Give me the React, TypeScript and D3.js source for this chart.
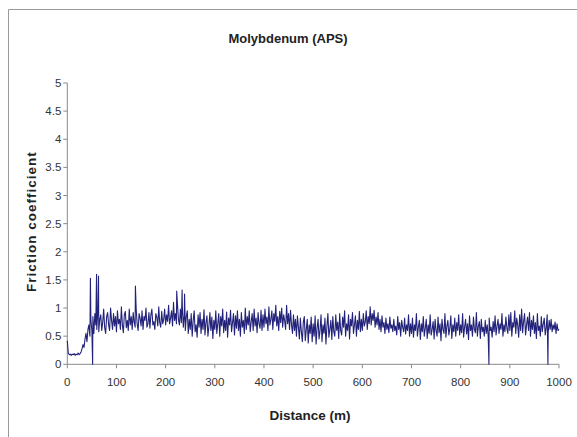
import React from "react";
import * as d3 from "d3";

const title = "Molybdenum (APS)";
const xLabel = "Distance (m)";
const yLabel = "Friction coefficient";
const xTicks = [0, 100, 200, 300, 400, 500, 600, 700, 800, 900, 1000];
const yTicks = [0, 0.5, 1, 1.5, 2, 2.5, 3, 3.5, 4, 4.5, 5];
const yTickLabels = ["0", "0.5", "1", "1.5", "2", "2.5", "3", "3.5", "4", "4.5", "5"];

// sampled every 2 m, from 0 to 1000 m
const sampleStep = 2;
const friction = [
  0.42, 0.2, 0.17, 0.18, 0.16, 0.18, 0.17, 0.19, 0.16, 0.18, 0.17, 0.2, 0.17, 0.19, 0.22, 0.28, 0.35, 0.3, 0.45, 0.55, 0.4, 0.62, 0.7, 0.5, 0.78,
  0.6, 0.85, 0.55, 0.9, 0.7, 0.62, 0.95, 0.58, 0.8, 0.88, 0.6, 0.75, 0.98, 0.65, 0.55, 0.85, 0.92, 0.7, 0.6, 1.0, 0.78, 0.62, 0.9, 0.68, 0.85,
  0.58, 0.95, 0.72, 0.8, 0.62, 1.02, 0.7, 0.56, 0.88, 0.94, 0.65, 0.78, 0.6, 0.98, 0.7, 0.85, 0.62, 0.92, 0.75, 0.66, 1.0, 0.72, 0.6, 0.9, 0.82,
  0.68, 0.95, 0.62, 0.85, 0.78, 1.0, 0.66, 0.72, 0.92, 0.64, 0.88, 0.98, 0.7, 0.76, 0.62, 0.9, 0.84, 0.68, 1.02, 0.74, 0.66, 0.94, 0.72, 0.8, 0.98,
  0.7, 0.88, 0.76, 1.05, 0.72, 0.82, 0.95, 0.68, 1.1, 0.78, 0.9, 0.72, 1.08, 0.8, 0.7, 0.98, 0.74, 1.02, 0.66, 0.9, 0.6, 0.85, 0.95, 0.55, 0.8,
  0.62, 0.9, 0.5, 0.78, 0.95, 0.58, 0.7, 0.48, 0.88, 0.66, 0.92, 0.55, 0.8, 0.62, 0.97, 0.52, 0.74, 0.86, 0.5, 0.68, 0.92, 0.6, 0.84, 0.46, 0.78,
  0.62, 0.95, 0.55, 0.72, 0.9, 0.5, 0.85, 0.68, 0.98, 0.56, 0.78, 0.6, 0.93, 0.48, 0.82, 0.7, 0.96, 0.58, 0.74, 0.9, 0.52, 0.86, 0.64, 0.95, 0.6,
  0.8, 0.5, 0.92, 0.66, 0.78, 0.55, 1.0, 0.62, 0.85, 0.7, 0.95, 0.58, 0.76, 0.9, 0.6, 0.98, 0.68, 0.82, 0.56, 0.92, 0.72, 0.64, 0.96, 0.6, 0.88,
  0.66, 0.98, 0.72, 0.84, 0.6, 1.02, 0.7, 0.8, 0.95, 0.62, 0.9, 0.76, 1.05, 0.68, 0.85, 0.6, 0.94, 0.74, 1.0, 0.66, 0.88, 0.78, 0.62, 1.05, 0.72,
  0.9, 0.62, 0.96, 0.7, 0.55, 0.88, 0.6, 0.8, 0.5, 0.86, 0.66, 0.45, 0.82, 0.58, 0.4, 0.75, 0.85, 0.42, 0.62, 0.8, 0.38, 0.7, 0.55, 0.84, 0.4,
  0.72, 0.5, 0.86, 0.36, 0.65, 0.8, 0.45, 0.6, 0.88, 0.4, 0.7, 0.55, 0.82, 0.36, 0.68, 0.9, 0.48, 0.62, 0.78, 0.44, 0.85, 0.58, 0.5, 0.88, 0.6,
  0.75, 0.46, 0.9, 0.6, 0.52, 0.84, 0.66, 0.95, 0.5, 0.72, 0.6, 0.88, 0.45, 0.8, 0.68, 0.92, 0.55, 0.7, 0.86, 0.5, 0.78, 0.62, 0.94, 0.58, 0.8,
  0.6, 0.9, 0.68, 0.75, 0.95, 0.62, 0.85, 0.72, 1.02, 0.7, 0.9, 0.78, 0.96, 0.66, 0.84, 0.7, 0.92, 0.62, 0.8, 0.58, 0.86, 0.66, 0.74, 0.55, 0.82,
  0.62, 0.72, 0.56, 0.84, 0.64, 0.7, 0.58, 0.8, 0.6, 0.68, 0.52, 0.85, 0.62, 0.74, 0.5, 0.78, 0.66, 0.58, 0.82, 0.54, 0.7, 0.6, 0.88, 0.5, 0.72,
  0.55, 0.82, 0.48, 0.7, 0.6, 0.9, 0.5, 0.66, 0.78, 0.44, 0.72, 0.58, 0.85, 0.5, 0.64, 0.8, 0.46, 0.7, 0.55, 0.88, 0.52, 0.62, 0.76, 0.45, 0.8,
  0.6, 0.5, 0.84, 0.56, 0.72, 0.42, 0.8, 0.62, 0.55, 0.9, 0.48, 0.68, 0.78, 0.52, 0.64, 0.86, 0.46, 0.7, 0.58, 0.82, 0.5, 0.74, 0.6, 0.88, 0.52,
  0.7, 0.56, 0.9, 0.48, 0.66, 0.8, 0.54, 0.72, 0.44, 0.86, 0.6, 0.7, 0.5, 0.84, 0.62, 0.56, 0.92, 0.5, 0.68, 0.76, 0.46, 0.8, 0.58, 0.66, 0.5,
  0.78, 0.55, 0.7, 0.5, 0.82, 0.6, 0.66, 0.48, 0.76, 0.58, 0.86, 0.52, 0.68, 0.8, 0.55, 0.72, 0.62, 0.9, 0.5, 0.7, 0.58, 0.84, 0.64, 0.55, 0.88,
  0.6, 0.92, 0.5, 0.74, 0.66, 0.95, 0.55, 0.82, 0.7, 0.48, 0.88, 0.6, 0.98, 0.56, 0.76, 0.9, 0.52, 0.7, 0.84, 0.6, 0.92, 0.5, 0.78, 0.62, 0.86,
  0.55, 0.74, 0.46, 0.9, 0.6, 0.68, 0.5, 0.85, 0.58, 0.72, 0.82, 0.52, 0.66, 0.88, 0.56, 0.78, 0.62, 0.8, 0.58, 0.7, 0.62, 0.75, 0.55, 0.72, 0.6,
  0.62,
];

// isolated spikes
const spikeDistance = [47, 51.5, 59.5, 63.5, 138.5, 222.5, 233.5, 238.5, 857.5, 977.5];
const spikeValue = [1.53, 0, 1.6, 1.57, 1.39, 1.3, 1.32, 1.25, 0, 0];

const W = 577;
const H = 437;
const left = 67.3;
const right = 559;
const top = 83;
const bottom = 364.3;

export default function App() {
  const x = d3.scaleLinear().domain([0, 1000]).range([left, right]);
  const y = d3.scaleLinear().domain([0, 5]).range([bottom, top]);

  const pts: [number, number][] = friction.map((v, i) => [i * sampleStep, v]);
  spikeDistance.forEach((d, i) => pts.push([d, spikeValue[i]]));
  pts.sort((a, b) => a[0] - b[0]);

  const line = d3
    .line<[number, number]>()
    .x((d) => x(d[0]))
    .y((d) => y(d[1]));

  const axisColor = "#8a8a8a";
  const textColor = "#333";
  const font = "'Liberation Sans', Arial, sans-serif";

  return (
    <svg
      width={W}
      height={H}
      style={{ position: "absolute", left: 0, top: 0, background: "#fff" }}
      fontFamily={font}
    >
      <rect x={0} y={0} width={W} height={H} fill="#fff" />
      {/* frame */}
      <line x1={8.5} y1={9.5} x2={W} y2={9.5} stroke="#999" strokeWidth={1} />
      <line x1={8.5} y1={9.5} x2={8.5} y2={H} stroke="#999" strokeWidth={1} />

      <text x={288} y={43} textAnchor="middle" fontSize={13} fontWeight="bold" fill="#222">
        {title}
      </text>

      {/* y axis */}
      <line x1={left} y1={top} x2={left} y2={bottom} stroke={axisColor} />
      {yTicks.map((t, i) => (
        <g key={t}>
          <line x1={left - 4} x2={left} y1={y(t)} y2={y(t)} stroke={axisColor} />
          <text x={left - 6} y={y(t) + 4} textAnchor="end" fontSize={11.5} fill={textColor}>
            {yTickLabels[i]}
          </text>
        </g>
      ))}
      <text
        transform={`translate(36,${(top + bottom) / 2 - 2}) rotate(-90)`}
        textAnchor="middle"
        fontSize={13.5}
        fontWeight="bold"
        fill="#222"
        letterSpacing={1}
      >
        {yLabel}
      </text>

      {/* x axis */}
      <line x1={left} y1={bottom} x2={right} y2={bottom} stroke={axisColor} />
      {xTicks.map((t) => (
        <g key={t}>
          <line x1={x(t)} x2={x(t)} y1={bottom} y2={bottom + 4} stroke={axisColor} />
          <text x={x(t)} y={bottom + 22} textAnchor="middle" fontSize={11.5} fill={textColor}>
            {t}
          </text>
        </g>
      ))}
      <text x={310} y={420} textAnchor="middle" fontSize={13.5} fontWeight="bold" fill="#222">
        {xLabel}
      </text>

      <path d={line(pts) || ""} fill="none" stroke="#22227a" strokeWidth={1.1} strokeLinejoin="round" />
    </svg>
  );
}
